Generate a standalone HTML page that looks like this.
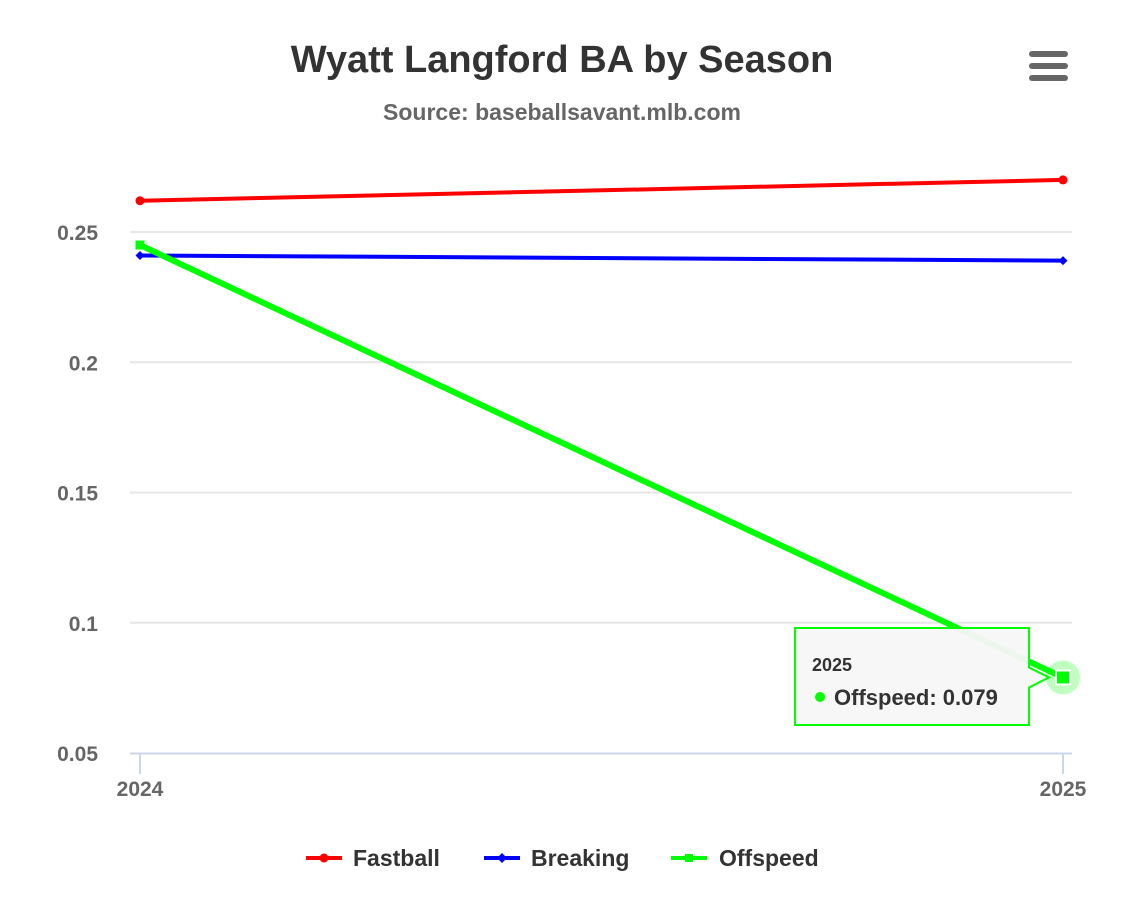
<!DOCTYPE html>
<html><head><meta charset="utf-8"><style>
html,body{margin:0;padding:0;background:#fff;}
body{width:1125px;height:904px;overflow:hidden;font-family:"Liberation Sans Narrow","Liberation Sans",sans-serif;}
</style></head><body>
<svg id="chart" width="1125" height="904" xmlns="http://www.w3.org/2000/svg" style="font-family:'Liberation Sans Narrow','Liberation Sans',sans-serif;font-weight:bold">
<rect width="1125" height="904" fill="#fff"/>
<text x="562" y="72" text-anchor="middle" font-size="38" fill="#333">Wyatt Langford BA by Season</text>
<text x="562" y="120" text-anchor="middle" font-size="23" fill="#666">Source: baseballsavant.mlb.com</text>
<g fill="#666">
<rect x="1029" y="51" width="39" height="6" rx="3"/><rect x="1029" y="63" width="39" height="6" rx="3"/><rect x="1029" y="75" width="39" height="6" rx="3"/>
</g>
<g id="grid"></g><g id="yticks"></g><g id="xticks"></g><g id="series"></g><g id="tooltip"></g>
<g font-size="23" fill="#333">
<g><line x1="306" y1="858" x2="342" y2="858" stroke="#ff0000" stroke-width="4"/><circle cx="324" cy="858" r="4.5" fill="#ff0000"/><text x="353" y="866">Fastball</text></g>
<g><line x1="484" y1="858" x2="520" y2="858" stroke="#0000ff" stroke-width="4"/><path d="M502 853 L507 858 L502 863 L497 858Z" fill="#0000ff"/><text x="531" y="866">Breaking</text></g>
<g><line x1="671" y1="858" x2="707" y2="858" stroke="#00ff00" stroke-width="4"/><rect x="685" y="854" width="8" height="8" fill="#00ff00"/><text x="719" y="866">Offspeed</text></g>
</g>
</svg>
<script>
const categories=["2024","2025"];
const fastball=[0.262,0.270];
const breaking=[0.241,0.239];
const offspeed=[0.245,0.079];
const yTicks=[0.05,0.1,0.15,0.2,0.25];
const yTickLabels=["0.05","0.1","0.15","0.2","0.25"];
const NS="http://www.w3.org/2000/svg";
const X0=140,X1=1063,PL=130,PR=1072;
function xs(i){return X0+(X1-X0)*i/(categories.length-1);}
function ys(v){return 753-(v-0.05)*2605;}
function mk(t,a,p){const e=document.createElementNS(NS,t);for(const k in a)e.setAttribute(k,a[k]);p.appendChild(e);return e;}
const grid=document.getElementById('grid'),yt=document.getElementById('yticks'),xt=document.getElementById('xticks'),ser=document.getElementById('series'),tt=document.getElementById('tooltip');
yTicks.forEach((v,i)=>{
 if(i>0){const g=mk('line',{x1:PL,x2:PR,y1:ys(v),y2:ys(v),stroke:'#e6e6e6','stroke-width':2},grid);
 
 }
 const t=mk('text',{x:98,y:ys(v)+8,'text-anchor':'end','font-size':21,fill:'#666'},yt);t.textContent=yTickLabels[i];
 
 
});
const ax=mk('line',{x1:PL,x2:PR,y1:753.5,y2:753.5,stroke:'#ccd6eb','stroke-width':2},xt);


categories.forEach((c,i)=>{
 const tk=mk('line',{x1:xs(i),x2:xs(i),y1:753,y2:774,stroke:'#ccd6eb','stroke-width':2},xt);
 
 
 const t=mk('text',{x:xs(i),y:796,'text-anchor':'middle','font-size':21,fill:'#666'},xt);t.textContent=c;
 
 
});
function drawSeries(name,vals,color,shape){
 const g=mk('g',{},ser);
 
 
 const pts=vals.map((v,i)=>xs(i)+','+ys(v)).join(' ');
 mk('polyline',{points:pts,fill:'none',stroke:color,'stroke-width':shape==='square'?6:4,'stroke-linejoin':'round'},g);
 vals.forEach((v,i)=>{let m;const x=xs(i),y=ys(v);
  if(shape==='circle')m=mk('circle',{cx:x,cy:y,r:4.5,fill:color},g);
  else if(shape==='diamond')m=mk('path',{d:`M${x} ${y-4.5}L${x+4.5} ${y}L${x} ${y+4.5}L${x-4.5} ${y}Z`,fill:color},g);
  else m=mk('rect',{x:x-4.5,y:y-4.5,width:9,height:9,fill:color},g);
  
  
 });
}
drawSeries('fastball',fastball,'#ff0000','circle');
drawSeries('breaking',breaking,'#0000ff','diamond');
drawSeries('offspeed',offspeed,'#00ff00','square');
// hover halo + tooltip for last offspeed point
const hx=xs(1),hy=ys(offspeed[1]);
const halo=mk('circle',{cx:hx,cy:hy,r:17,fill:'#00ff00','fill-opacity':0.25},tt);


const hm=mk('rect',{x:hx-7,y:hy-7,width:14,height:14,fill:'#00ff00',stroke:'#fff','stroke-width':2},tt);


const box=mk('path',{d:`M795 628 H1029 V${hy-10} L${hx-14} ${hy} L1029 ${hy+10} V725 H795 Z`,fill:'#f7f7f7','fill-opacity':0.95,stroke:'#00ff00','stroke-width':2},tt);


const t1=mk('text',{x:812,y:671,'font-size':18,fill:'#333'},tt);t1.textContent=categories[1];


mk('circle',{cx:820,cy:697,r:5,fill:'#00ff00'},tt);
const t2=mk('text',{x:834,y:705,'font-size':22,fill:'#333'},tt);t2.textContent='Offspeed: '+offspeed[1].toFixed(3);


</script>
</body></html>
